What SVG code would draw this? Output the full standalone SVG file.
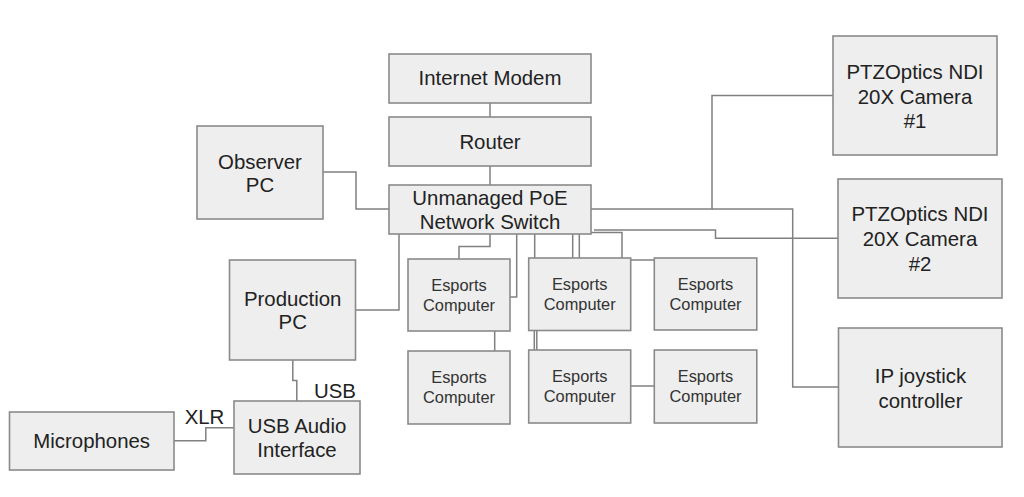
<svg xmlns="http://www.w3.org/2000/svg" width="1024" height="497" viewBox="0 0 1024 497">
<style>
.b{fill:#eeeeee;stroke:#8a8a8a;stroke-width:1.6}
.c{fill:none;stroke:#808080;stroke-width:1.5}
text{font-family:"Liberation Sans",Arial,sans-serif;fill:#222222;text-anchor:middle}
.l{font-size:20.4px}
.s{font-size:16.4px;fill:#333333}
</style>
<rect width="1024" height="497" fill="#ffffff"/>
<g id="connectors">
<path class="c" d="M490 103V117"/>
<path class="c" d="M490 166V185"/>
<path class="c" d="M323 172H356V209H389"/>
<path class="c" d="M355 310H399V234"/>
<path class="c" d="M490 234V246.500H459V259"/>
<path class="c" d="M516.700 234V297H510"/>
<path class="c" d="M494.700 331V351"/>
<path class="c" d="M534.700 234V258"/>
<path class="c" d="M572.700 234V258"/>
<path class="c" d="M579.300 234V258"/>
<path class="c" d="M591 232.500H622V258"/>
<path class="c" d="M630.700 260H654"/>
<path class="c" d="M594 230H715.500V238.300H838"/>
<path class="c" d="M591 209H712V95.500H833"/>
<path class="c" d="M712 209H792.700V387H838"/>
<path class="c" d="M534.300 330.500V350"/>
<path class="c" d="M536.800 330.500V350"/>
<path class="c" d="M630.700 386H654"/>
<path class="c" d="M292.800 360V380.500H296.800V401"/>
<path class="c" d="M174 440.800H205.800V427.800H234"/>
</g>
<g id="modem"><rect class="b" x="389" y="54" width="202" height="49"/><text class="l" x="490" y="85">Internet Modem</text></g>
<g id="router"><rect class="b" x="389" y="117" width="202" height="49"/><text class="l" x="490" y="149">Router</text></g>
<g id="switch"><rect class="b" x="389" y="185" width="202" height="49"/><text class="l" x="490" y="205">Unmanaged PoE</text><text class="l" x="490" y="229">Network Switch</text></g>
<g id="observer"><rect class="b" x="197" y="126" width="126" height="93"/><text class="l" x="260" y="169">Observer</text><text class="l" x="260" y="192">PC</text></g>
<g id="production"><rect class="b" x="229.500" y="260" width="126" height="100"/><text class="l" x="292.700" y="305.500">Production</text><text class="l" x="292.700" y="329">PC</text></g>
<g id="audio"><rect class="b" x="234" y="401" width="126" height="73"/><text class="l" x="297" y="433">USB Audio</text><text class="l" x="297" y="457">Interface</text></g>
<g id="microphones"><rect class="b" x="9.500" y="412" width="164.500" height="58"/><text class="l" x="91.700" y="448">Microphones</text></g>
<g id="camera1"><rect class="b" x="833" y="36" width="164" height="119"/><text class="l" x="915" y="79">PTZOptics NDI</text><text class="l" x="915" y="104">20X Camera</text><text class="l" x="915" y="127.500">#1</text></g>
<g id="camera2"><rect class="b" x="838" y="179" width="164" height="119"/><text class="l" x="920" y="221">PTZOptics NDI</text><text class="l" x="920" y="246">20X Camera</text><text class="l" x="920" y="270.500">#2</text></g>
<g id="joystick"><rect class="b" x="838.500" y="328" width="163.500" height="119"/><text class="l" x="920.500" y="383">IP joystick</text><text class="l" x="920.500" y="407.500">controller</text></g>
<g id="esports1"><rect class="b" x="408" y="259" width="102" height="72"/><text class="s" x="459" y="291">Esports</text><text class="s" x="459" y="311">Computer</text></g>
<g id="esports2"><rect class="b" x="528.700" y="258" width="102" height="72.500"/><text class="s" x="579.700" y="290">Esports</text><text class="s" x="579.700" y="310">Computer</text></g>
<g id="esports3"><rect class="b" x="654.300" y="258" width="102.500" height="72"/><text class="s" x="705.500" y="290">Esports</text><text class="s" x="705.500" y="310">Computer</text></g>
<g id="esports4"><rect class="b" x="408" y="351" width="102" height="73"/><text class="s" x="459" y="383">Esports</text><text class="s" x="459" y="403">Computer</text></g>
<g id="esports5"><rect class="b" x="528.700" y="350" width="102" height="73"/><text class="s" x="579.700" y="382">Esports</text><text class="s" x="579.700" y="402">Computer</text></g>
<g id="esports6"><rect class="b" x="654.300" y="350" width="102.500" height="73"/><text class="s" x="705.500" y="382">Esports</text><text class="s" x="705.500" y="402">Computer</text></g>
<g id="labels"><text class="l" x="335" y="398">USB</text><text class="l" x="204.500" y="423.500">XLR</text></g>
</svg>
